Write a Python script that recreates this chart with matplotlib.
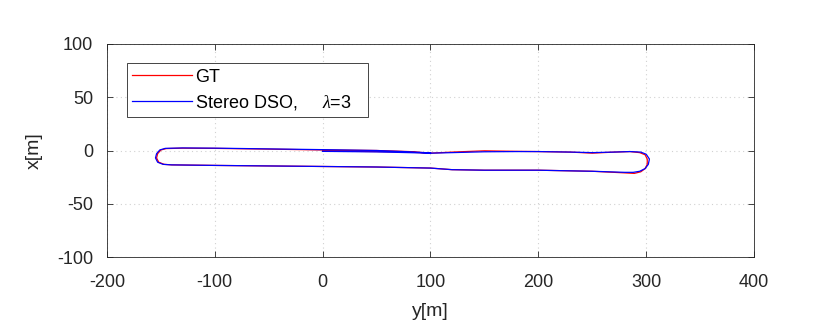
import matplotlib
matplotlib.use("Agg")
import matplotlib.pyplot as plt

plt.rcParams["font.family"] = ["Liberation Sans", "DejaVu Sans"]
plt.rcParams["mathtext.fontset"] = "custom"
plt.rcParams["mathtext.it"] = "Liberation Serif:italic"
plt.rcParams["axes.unicode_minus"] = False

# trajectory waypoints, in metres
gt_y = [0, 50, 80, 100, 120, 150, 180, 200, 230, 250, 270, 285, 294, 299, 301, 301, 299, 295,
        289, 280, 250, 200, 150, 120, 100, 50, 0, -50, -100, -140, -147, -152, -154, -153,
        -150, -145, -130, -100, -50, 0, 50, 80, 100]
gt_x = [-0.5, -1, -1.5, -2.5, -1.5, -0.3, -0.8, -1, -1.5, -2.5, -1.5, -1, -2, -4, -8, -13,
        -17, -20, -21.5, -21, -19.5, -18.5, -18.5, -18, -16.5, -15.5, -15, -14.5, -14, -13.5,
        -13, -11, -7, -3, 0.5, 1.8, 2.2, 2, 1.3, 0.5, 0, -1, -2.5]

dso_y = [0, 50, 80, 100, 120, 150, 180, 200, 230, 250, 270, 285, 295, 300, 303, 302, 299, 294,
         288, 280, 250, 200, 150, 120, 100, 50, 0, -50, -100, -140, -148, -153, -155, -154,
         -151, -146, -130, -100, -50, 0, 50, 80, 100]
dso_x = [-0.8, -1.3, -2, -2.5, -2, -1.2, -1, -1, -1.5, -2, -1.5, -1, -1.5, -3.5, -8, -13,
         -17, -19.5, -20.5, -20.5, -19.5, -18.5, -18.5, -18, -16.5, -15.5, -15, -14.5, -14,
         -13.5, -13, -11, -7, -3, 0.5, 2, 2.4, 2.2, 1.5, 0.8, 0, -1.2, -2.3]

x_ticks = [-200, -100, 0, 100, 200, 300, 400]
y_ticks = [-100, -50, 0, 50, 100]

fig = plt.figure(figsize=(8.14, 3.34), dpi=100)
ax = fig.add_axes([0.1314, 0.2305, 0.7949, 0.6378])

ax.plot(gt_y, gt_x, color="red", lw=0.9, label="GT")
ax.plot(dso_y, dso_x, color="blue", lw=0.9, label=r"Stereo DSO,     $\lambda$=3   ")

ax.set_xlim(-200, 400)
ax.set_ylim(-100, 100)
ax.set_xticks(x_ticks)
ax.set_yticks(y_ticks)
ax.grid(True, linestyle=(0, (1, 3)), color="0.82", lw=0.8)
ax.tick_params(direction="in", length=4.5, width=0.6, labelsize=13, colors="0.15",
               top=True, right=True)
ax.tick_params(axis="x", pad=12)
ax.tick_params(axis="y", pad=10)
for s in ax.spines.values():
    s.set_color("0.15")
    s.set_linewidth(0.6)

ax.set_xlabel("y[m]", fontsize=14, color="0.15", labelpad=9)
ax.set_ylabel("x[m]", fontsize=14, color="0.15", labelpad=10)

leg = ax.legend(loc="upper left", bbox_to_anchor=(0.031, 0.91), fontsize=13,
                fancybox=False, edgecolor="0.15", framealpha=1, borderpad=0.3,
                handlelength=3.3, handletextpad=0.15, labelspacing=0.4, borderaxespad=0)
leg.get_frame().set_linewidth(0.6)

fig.savefig("out.png", dpi=100)
